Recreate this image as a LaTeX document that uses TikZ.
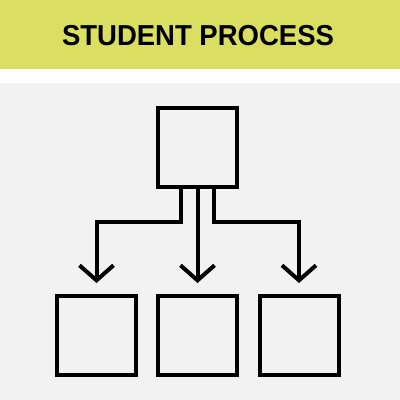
\documentclass[tikz,border=0pt]{standalone}
\usepackage{fontspec}
\setmainfont{Liberation Sans}
\usetikzlibrary{arrows.meta}
\definecolor{bandgreen}{HTML}{DADF62}
\definecolor{bggray}{HTML}{F2F2F2}
\begin{document}
\begin{tikzpicture}[x=1pt,y=-1pt,
  box/.style={draw=black,line width=4pt,minimum width=79pt,minimum height=79pt,inner sep=0pt,fill=bggray},
  conn/.style={draw=black,line width=4pt,line join=miter,-{Straight Barb[length=15pt,width=34pt,line width=4pt]}}]
\useasboundingbox (0,0) rectangle (400,400);
\fill[white] (0,0) rectangle (400,400);
\fill[bandgreen] (0,0) rectangle (400,69);
\fill[bggray] (0,83) rectangle (400,400);
\node[font=\bfseries\fontsize{27.5}{30}\selectfont,yscale=1.05] (title) at (198,36) {STUDENT PROCESS};
\node[box] (top) at (197.5,147.5) {};
\node[box] (b1) at (96.5,335.5) {};
\node[box] (b2) at (197.5,335.5) {};
\node[box] (b3) at (299,335.5) {};
\coordinate (t1) at (96.5,283);
\coordinate (t2) at (197.5,283);
\coordinate (t3) at (299,283);
\draw[conn] (top.south -| 181,0) |- (96.5,221.5) -- (t1);
\draw[conn] (top.south) -- (t2);
\draw[conn] (top.south -| 214,0) |- (299,221.5) -- (t3);
\end{tikzpicture}
\end{document}
